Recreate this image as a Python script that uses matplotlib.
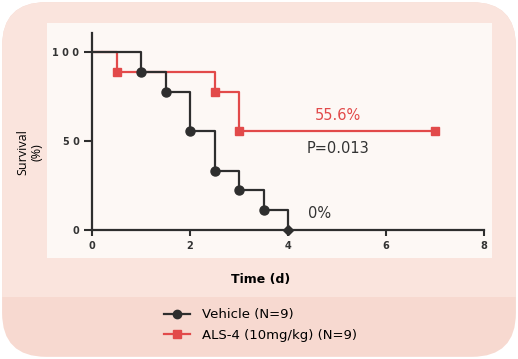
import numpy as np
import matplotlib.pyplot as plt
from matplotlib.patches import FancyBboxPatch, Rectangle
from matplotlib.lines import Line2D

plt.rcParams['font.family'] = ['DejaVu Sans']

# Kaplan-Meier steps
veh_t = [0, 1, 1.5, 2, 2.5, 3, 3.5, 4]
veh_s = [100, 88.9, 77.8, 55.6, 33.3, 22.2, 11.1, 0]
als_t = [0, 0.5, 2.5, 3, 7]
als_s = [100, 88.9, 77.8, 55.6, 55.6]

xticks = [0, 2, 4, 6, 8]
yticks = [0, 50, 100]

BLACK = "#2e2e2e"
RED = "#e24a4a"

W, H = 518, 359
fig = plt.figure(figsize=(W / 100, H / 100), dpi=100)
fig.patch.set_facecolor("white")

# rounded card, light upper part and darker legend band
card = FancyBboxPatch((0.004, 0.006), 0.992, 0.988,
                      boxstyle="round,pad=0,rounding_size=0.085",
                      transform=fig.transFigure, facecolor="#f7d9d0",
                      edgecolor="none", mutation_aspect=W / H, zorder=-3)
fig.patches.append(card)
top = Rectangle((0, 1 - 297 / H), 1, 297 / H, transform=fig.transFigure,
                facecolor="#fae4dd", edgecolor="none", zorder=-2)
fig.patches.append(top)
top.set_clip_path(card)
panel = Rectangle((47 / W, 1 - 258 / H), (492 - 47) / W, (258 - 23) / H,
                  transform=fig.transFigure, facecolor="#fdf8f5",
                  edgecolor="none", zorder=-1)
fig.patches.append(panel)

ax = fig.add_axes([92 / W, 1 - 230 / H, 392 / W, 197 / H])
ax.set_zorder(2)
ax.patch.set_alpha(0)

ax.step(als_t, als_s, where="post", color=RED, lw=1.6, zorder=2)
ax.plot(als_t[1:], als_s[1:], "s", color=RED, ms=6, zorder=3, clip_on=False)
ax.step(veh_t, veh_s, where="post", color=BLACK, lw=1.6, zorder=4)
ax.plot(veh_t[1:-1], veh_s[1:-1], "o", color=BLACK, ms=6.5, zorder=5)
ax.plot(veh_t[-1:], veh_s[-1:], "D", color=BLACK, ms=5.5, zorder=5, clip_on=False)

ax.set_xlim(0, 8)
ax.set_ylim(0, 110.7)
ax.set_xticks(xticks)
ax.set_yticks(yticks)
ax.set_xticklabels([" ".join(str(v)) for v in xticks], fontweight="bold", fontsize=7, color="#333333")
ax.set_yticklabels([" ".join(str(v)) for v in yticks], fontweight="bold", fontsize=7, color="#333333")
ax.tick_params(axis="y", length=6, width=1.5, color=BLACK, pad=3)
ax.tick_params(axis="x", length=4, width=1.5, color=BLACK, pad=4)
for s in ["top", "right"]:
    ax.spines[s].set_visible(False)
for s in ["left", "bottom"]:
    ax.spines[s].set_linewidth(1.6)
    ax.spines[s].set_color(BLACK)

ax.text(5.02, 60, "55.6%", color=RED, fontsize=10.5, ha="center", va="bottom")
ax.text(5.02, 50, "P=0.013", color="#333333", fontsize=10.5, ha="center", va="top")
ax.text(4.41, 9.5, "0%", color="#333333", fontsize=10.5, ha="left", va="center")

ax.set_xlabel("Time (d)", fontsize=9, fontweight="bold")
ax.xaxis.set_label_coords(0.43, -0.22)
fig.text(30 / W, 1 - 152 / H, "Survival\n(%)", rotation=90, fontsize=9,
         ha="center", va="center", linespacing=1.1,
         family=["Open Sans", "DejaVu Sans"])

handles = [Line2D([], [], color=BLACK, marker="o", lw=1.6, ms=6),
           Line2D([], [], color=RED, marker="s", lw=1.6, ms=6)]
fig.legend(handles, ["Vehicle (N=9)", "ALS-4 (10mg/kg) (N=9)"],
           loc="center left", bbox_to_anchor=(152 / W, 1 - 325 / H),
           frameon=False, fontsize=9.5, handlelength=2.0, labelspacing=0.55,
           handletextpad=0.9)

fig.savefig("out.png", dpi=100)
